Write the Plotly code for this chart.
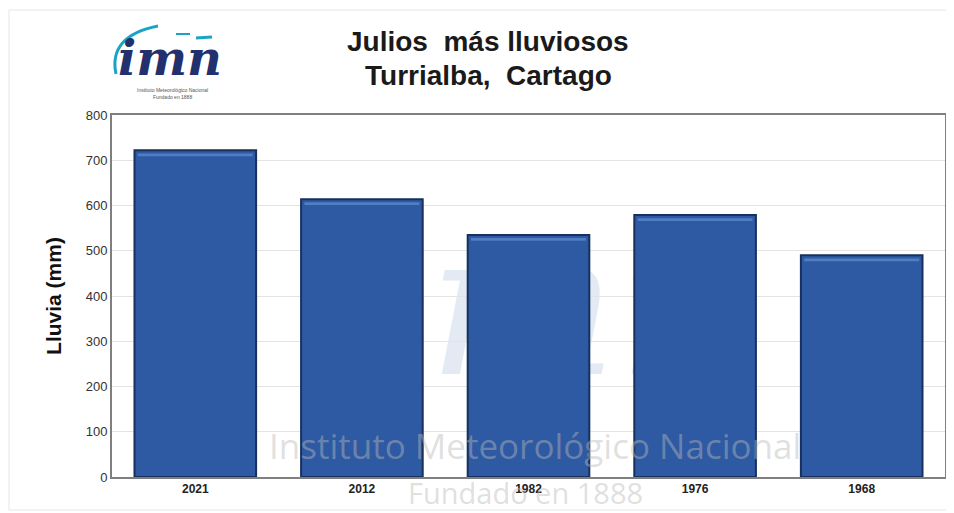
import plotly.graph_objects as go

years = ["2021", "2012", "1982", "1976", "1968"]
rain_mm = [722, 614, 535, 579, 490]
y_ticks = [0, 100, 200, 300, 400, 500, 600, 700, 800]

OFF = 8  # page body margin
WID, HEI = 954 - OFF, 513 - OFF
PL, PR, PT, PB = 112, 945, 115, 477  # plot area in screen px
L, R, T, B = PL - OFF, WID - (PR - OFF), PT - OFF, HEI - (PB - OFF)
W, H = WID - L - R, HEI - T - B

def px(x, y):
    return (x - PL) / W, (PB - y) / H

fig = go.Figure()
fig.add_trace(go.Bar(
    x=years, y=rain_mm,
    marker=dict(color="#2E5AA4", line=dict(color="#17305E", width=2)),
    width=0.73,
))
# bevel highlight near top of each bar
fig.add_trace(go.Bar(
    x=years, y=[6] * len(rain_mm), base=[v - 13 for v in rain_mm],
    marker=dict(color="#4F7EC2", line=dict(width=0)),
    width=0.69, hoverinfo="skip",
))

font = "Liberation Sans, Arial, sans-serif"
fig.update_layout(
    width=WID, height=HEI,
    margin=dict(l=L, r=R, t=T, b=B, autoexpand=False),
    paper_bgcolor="white", plot_bgcolor="white",
    showlegend=False, barmode="overlay",
    xaxis=dict(showgrid=False, ticks="", showline=True, linecolor="#7f7f7f", linewidth=2,
               mirror=True, automargin=False, tickfont=dict(family=font, size=12, color="#222"),
               tickprefix="<b>", ticksuffix="</b>"),
    yaxis=dict(range=[0, 800], tickvals=y_ticks, showgrid=True, gridcolor="#e3e3e3",
               showline=True, linecolor="#7f7f7f", linewidth=2, mirror=True, automargin=False,
               tickfont=dict(family=font, size=13, color="#333"), ticks="",
               title=dict(text="<b>Lluvia (mm)</b>", font=dict(family=font, size=21, color="#111"),
                          standoff=18)),
)

def ann(text, x, y, size, color, family=font):
    ax, ay = px(x, y)
    fig.add_annotation(text=text, x=ax, y=ay, xref="paper", yref="paper", showarrow=False,
                       xanchor="center", yanchor="middle",
                       font=dict(family=family, size=size, color=color))

# title
ann("<b>Julios  más lluviosos</b>", 488, 42, 28, "#1a1a1a")
ann("<b>Turrialba,  Cartago</b>", 488, 75, 28, "#1a1a1a")

# big faint watermark below bars (shape label)
x0, y0 = px(270, 180)
x1, y1 = px(840, 400)
fig.add_shape(type="rect", xref="paper", yref="paper", x0=x0, y0=y0, x1=x1, y1=y1,
              layer="below", line=dict(width=0), fillcolor="rgba(0,0,0,0)",
              label=dict(text="<i>imn</i>", font=dict(family="DejaVu Serif", size=200,
                                                      color="#e4eaf4")))

# text watermarks
ann("Instituto Meteorológico Nacional", 535, 445, 35, "rgba(185,185,185,0.45)", "Open Sans")
ann("Fundado en 1888", 525, 493, 29, "rgba(185,185,185,0.45)", "Open Sans")

# logo
ann("<b><i>imn</i></b>", 170, 58, 48, "#22306E", "DejaVu Serif")
ann("Instituto Meteorológico Nacional<br>Fundado en 1888", 172, 93, 5, "#555")
p0, pc, p1 = px(116, 74), px(108, 36), px(158, 26)
fig.add_shape(type="path", xref="paper", yref="paper",
              path=f"M {p0[0]},{p0[1]} Q {pc[0]},{pc[1]} {p1[0]},{p1[1]}",
              line=dict(color="#1BA3C6", width=3))
for (a, b, c, d, w) in [(176, 34, 190, 34, 2), (196, 38, 212, 37, 3)]:
    q0, q1 = px(a, b), px(c, d)
    fig.add_shape(type="line", xref="paper", yref="paper", x0=q0[0], y0=q0[1], x1=q1[0], y1=q1[1],
                  line=dict(color="#1BA3C6", width=w))

# outer frame
f0, f1 = px(9, 10), px(951, 510)
fig.add_shape(type="rect", xref="paper", yref="paper", x0=f0[0], y0=f0[1], x1=f1[0], y1=f1[1],
              line=dict(color="#e6e6e6", width=1))

fig.write_html("out.html")
